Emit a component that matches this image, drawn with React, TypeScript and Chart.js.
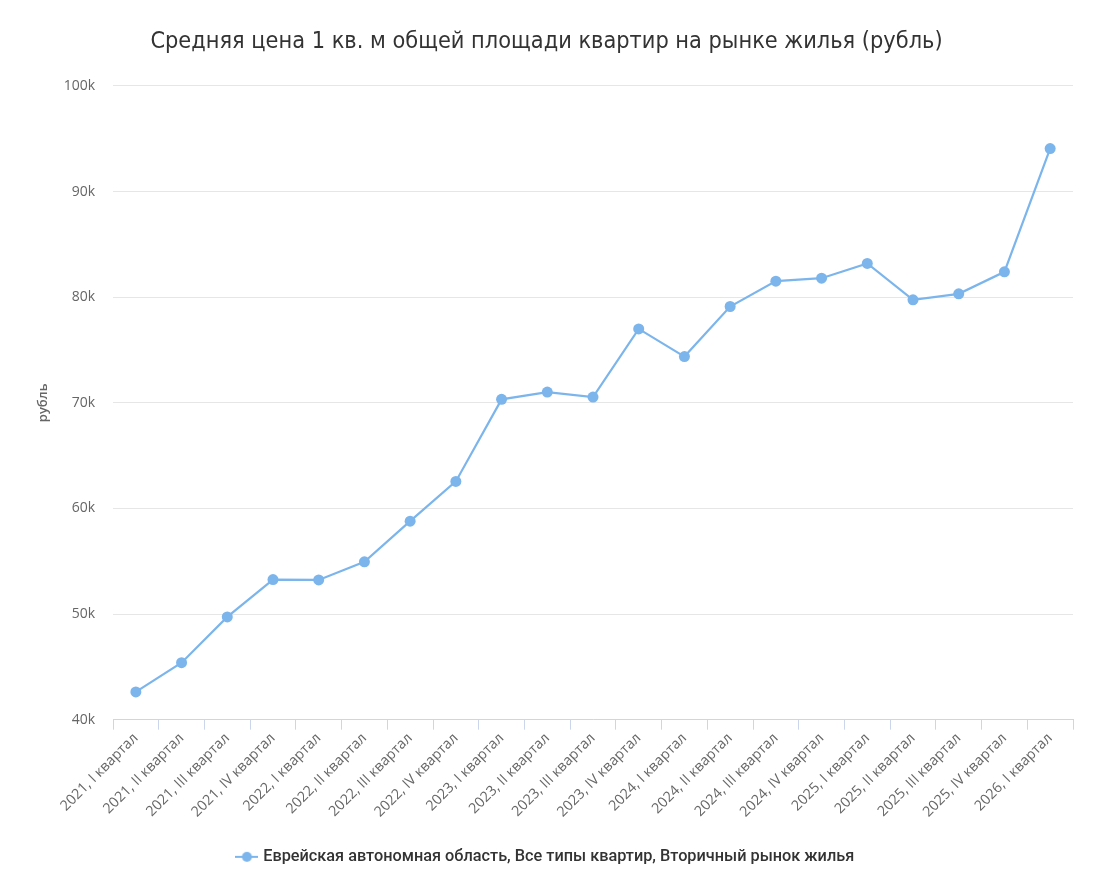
import React, { useEffect, useRef } from 'react';
import { Chart, registerables } from 'chart.js';

Chart.register(...registerables);

const quarters = [
  '2021, I квартал', '2021, II квартал', '2021, III квартал', '2021, IV квартал',
  '2022, I квартал', '2022, II квартал', '2022, III квартал', '2022, IV квартал',
  '2023, I квартал', '2023, II квартал', '2023, III квартал', '2023, IV квартал',
  '2024, I квартал', '2024, II квартал', '2024, III квартал', '2024, IV квартал',
  '2025, I квартал', '2025, II квартал', '2025, III квартал', '2025, IV квартал',
  '2026, I квартал',
];

const prices = [
  42630, 45400, 49730, 53270, 53230, 54950, 58800, 62560,
  70330, 71020, 70550, 77000, 74380, 79120, 81520, 81800,
  83200, 79750, 80320, 82400, 94070,
];

const seriesName = 'Еврейская автономная область, Все типы квартир, Вторичный рынок жилья';
const chartTitle = 'Средняя цена 1 кв. м общей площади квартир на рынке жилья (рубль)';
const yTitle = 'рубль';

const LINE_COLOR = '#7cb5ec';

// legend marker: short line with a dot, like the original
function makeMarker(): HTMLCanvasElement {
  const c = document.createElement('canvas');
  c.width = 23;
  c.height = 12;
  const g = c.getContext('2d');
  if (g) {
    g.strokeStyle = LINE_COLOR;
    g.lineWidth = 2;
    g.beginPath();
    g.moveTo(0, 6);
    g.lineTo(23, 6);
    g.stroke();
    g.fillStyle = LINE_COLOR;
    g.beginPath();
    g.arc(11.5, 6, 5, 0, Math.PI * 2);
    g.fill();
  }
  return c;
}

const App: React.FC = () => {
  const chartRef = useRef<HTMLCanvasElement>(null);
  const chartInstance = useRef<Chart | null>(null);

  useEffect(() => {
    if (!chartRef.current) return;
    if (chartInstance.current) chartInstance.current.destroy();

    const ctx = chartRef.current.getContext('2d');
    if (!ctx) return;

    const marker = makeMarker();

    chartInstance.current = new Chart(ctx, {
      type: 'line',
      data: {
        labels: quarters,
        datasets: [
          {
            label: seriesName,
            data: prices,
            borderColor: LINE_COLOR,
            backgroundColor: LINE_COLOR,
            borderWidth: 2.2,
            pointRadius: 5.5,
            pointBorderWidth: 0,
            pointBackgroundColor: LINE_COLOR,
            pointStyle: 'circle',
            tension: 0,
          },
        ],
      },
      options: {
        responsive: true,
        maintainAspectRatio: false,
        animation: false,
        layout: { padding: { left: 20, right: 20, top: 0, bottom: -3 } },
        plugins: {
          title: {
            display: true,
            text: chartTitle,
            color: '#333333',
            font: { family: '"Liberation Sans Narrow", "DejaVu Sans Condensed", Roboto, sans-serif', size: 23.3, weight: 'normal' },
            padding: { top: 28, bottom: 30 },
          },
          legend: {
            position: 'bottom',
            labels: {
              usePointStyle: true,
              color: '#333333',
              font: { family: 'Roboto, sans-serif', size: 16.3, weight: 500 as any },
              padding: 12,
              generateLabels: () => [
                {
                  text: seriesName,
                  pointStyle: marker as any,
                  fillStyle: LINE_COLOR,
                  strokeStyle: LINE_COLOR,
                  lineWidth: 0,
                  hidden: false,
                  datasetIndex: 0,
                  fontColor: '#333333',
                } as any,
              ],
            },
          },
          tooltip: { enabled: false },
        },
        scales: {
          x: {
            offset: true,
            afterFit: (scale: any) => {
              scale.height = 117;
            },
            border: { display: true, color: '#ccd6eb', width: 1 },
            grid: {
              offset: true,
              drawOnChartArea: false,
              drawTicks: true,
              tickLength: 10,
              color: '#ccd6eb',
            },
            ticks: {
              autoSkip: false,
              maxRotation: 45,
              minRotation: 45,
              color: '#666666',
              padding: 0,
              font: { family: '"Open Sans", sans-serif', size: 14.3 },
            },
          },
          y: {
            min: 40000,
            max: 100000,
            afterFit: (scale: any) => {
              scale.width = 93;
            },
            border: { display: false },
            grid: { color: '#e6e6e6', drawTicks: false },
            title: {
              display: true,
              text: yTitle,
              color: '#666666',
              font: { family: '"Open Sans", sans-serif', size: 13, weight: 600 as any },
              padding: { top: 15, bottom: 0 },
            },
            ticks: {
              stepSize: 10000,
              color: '#666666',
              padding: 18,
              font: { family: '"Open Sans", sans-serif', size: 14 },
              callback: (v) => `${Number(v) / 1000}k`,
            },
          },
        },
      },
    });

    return () => {
      if (chartInstance.current) {
        chartInstance.current.destroy();
        chartInstance.current = null;
      }
    };
  }, []);

  return (
    <div style={{ position: 'fixed', left: 0, top: 0, width: 1093, height: 872, background: '#ffffff' }}>
      <canvas ref={chartRef}></canvas>
    </div>
  );
};

export default App;
